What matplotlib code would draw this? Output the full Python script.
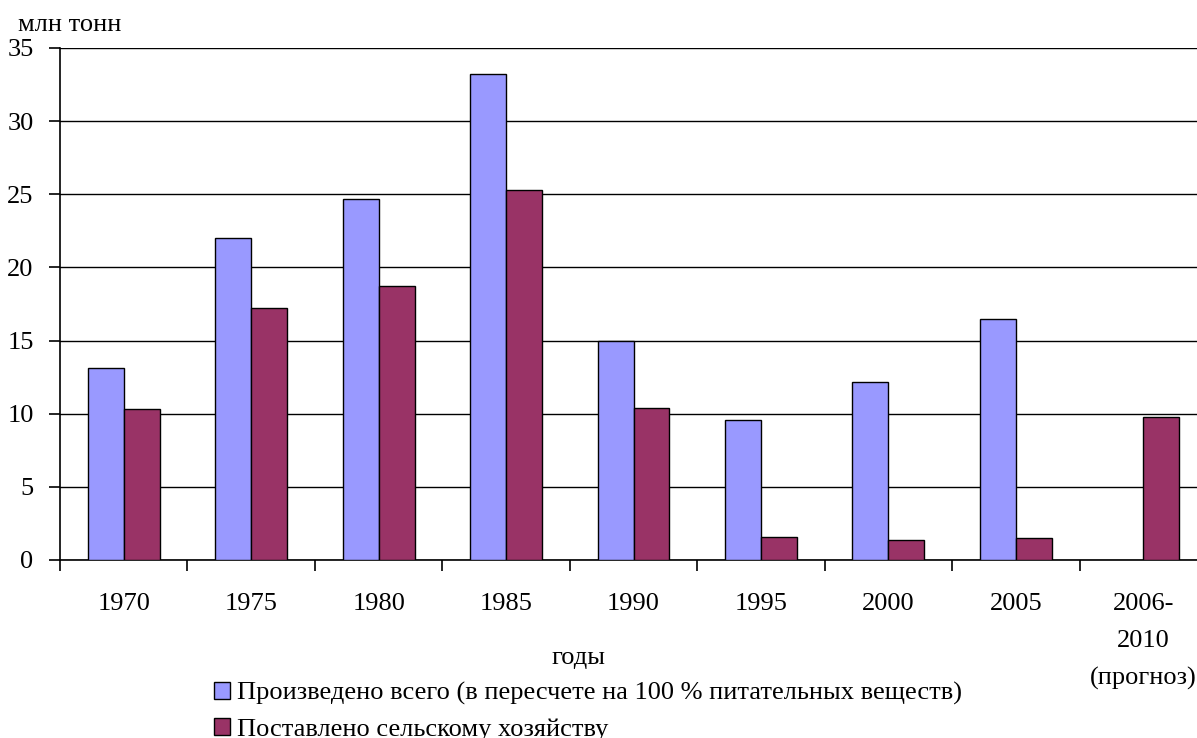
import matplotlib.pyplot as plt
import matplotlib.patches as mpatches
import numpy as np

plt.rcParams['font.family'] = ['Liberation Serif', 'DejaVu Serif']

years = ["1970", "1975", "1980", "1985", "1990", "1995", "2000", "2005", "2006-\n2010\n(прогноз)"]
produced = [13.1, 22.0, 24.7, 33.2, 15.0, 9.6, 12.2, 16.5, np.nan]
supplied = [10.3, 17.2, 18.7, 25.3, 10.4, 1.6, 1.4, 1.5, 9.8]

label_prod = "Произведено всего (в пересчете на 100 % питательных веществ)"
label_supp = "Поставлено сельскому хозяйству"

blue = "#9999ff"
red = "#993366"
fs = 19

W, H = 1197, 738
fig = plt.figure(figsize=(W / 100, H / 100), dpi=100)
ax = fig.add_axes([60 / W, 1 - 560 / H, 1147 / W, 512 / H])

x = np.arange(len(years))
bw = 0.282
ax.bar(x - bw / 2, produced, bw, color=blue, edgecolor="black", linewidth=1, zorder=3)
ax.bar(x + bw / 2, supplied, bw, color=red, edgecolor="black", linewidth=1, zorder=3)

ax.set_xlim(-0.5, len(years) - 0.5)
ax.set_ylim(0, 35)
ax.set_yticks(np.arange(0, 36, 5))
ax.yaxis.grid(True, color="black", linewidth=1, zorder=0)

for s in ["top", "right"]:
    ax.spines[s].set_visible(False)
ax.spines["left"].set_linewidth(1.2)
ax.spines["bottom"].set_linewidth(1.2)

# boundaries get the tick marks, centres get the labels
ax.set_xticks(np.arange(len(years) + 1) - 0.5)
ax.set_xticklabels([])
ax.tick_params(axis="x", which="major", length=8, width=1.2, direction="out")
ax.set_xticks(x, minor=True)
ax.set_xticklabels(years, minor=True, fontsize=fs, linespacing=1.85)
ax.tick_params(axis="x", which="minor", length=0, pad=24)
ax.tick_params(axis="y", length=8, width=1.2, pad=11, labelsize=fs)

fig.text(18 / W, 1 - 25 / H, "млн тонн", fontsize=fs, va="center", ha="left")
fig.text(578 / W, 1 - 658 / H, "годы", fontsize=fs, va="center", ha="center")

handles = [mpatches.Patch(facecolor=blue, edgecolor="black", label=label_prod),
           mpatches.Patch(facecolor=red, edgecolor="black", label=label_supp)]
fig.legend(handles=handles, loc="upper left", bbox_to_anchor=(214 / W, 1 - 682 / H),
           frameon=False, fontsize=fs, handlelength=0.6, handleheight=0.6,
           handletextpad=0.28, labelspacing=0.5, borderaxespad=0, borderpad=0)

fig.savefig("out.png", dpi=100)
